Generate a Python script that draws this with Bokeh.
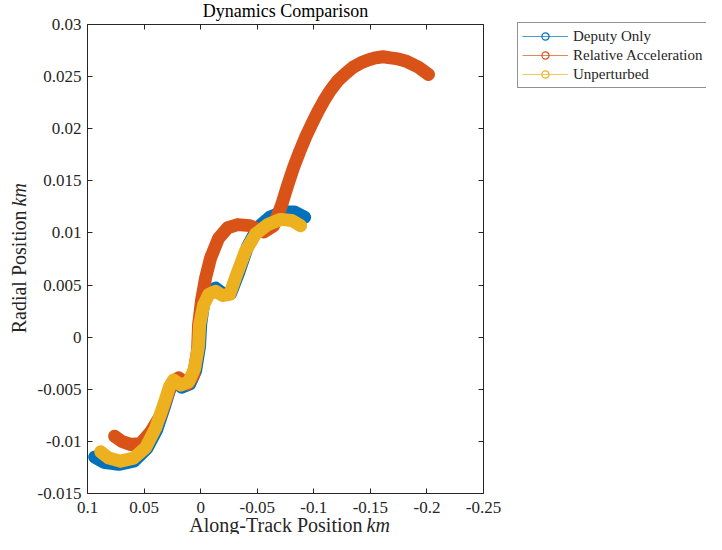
import math
from bokeh.plotting import figure
from bokeh.models import (Range1d, LinearAxis, FixedTicker, Legend, LegendItem,
                          Label, ColumnDataSource)
from bokeh.embed import file_html
from bokeh.resources import INLINE

# ---------------- data (km) ----------------
deputy_x = [0.0936, 0.0857, 0.0724, 0.0592, 0.0477, 0.0389, 0.0318, 0.0265, 0.0230,
            0.0168, 0.0097, 0.0044, 0.0009, 0.0, -0.0027, -0.0071, -0.0133, -0.0194,
            -0.0265, -0.0336, -0.0415, -0.0504, -0.0610, -0.0724, -0.0830, -0.0919]
deputy_y = [-0.0115, -0.0120, -0.0122, -0.0119, -0.0107, -0.0089, -0.0066, -0.0047,
            -0.0042, -0.0048, -0.0045, -0.0032, -0.0008, 0.0012, 0.0033, 0.0044, 0.0047,
            0.0042, 0.0042, 0.0062, 0.0087, 0.0105, 0.0115, 0.0120, 0.0120, 0.0115]

relacc_x = [0.0760, 0.0698, 0.0618, 0.0530, 0.0442, 0.0353, 0.0292, 0.0247, 0.0194,
            0.0115, 0.0062, 0.0027, 0.0018, -0.0009, -0.0044, -0.0088, -0.0159, -0.0239,
            -0.0327, -0.0433, -0.0557, -0.0645, -0.0716, -0.0770, -0.0822, -0.0875,
            -0.0928, -0.0980, -0.1034, -0.1090, -0.1148, -0.1212, -0.1281, -0.1347,
            -0.1413, -0.1480, -0.1546, -0.1612, -0.1678, -0.1745, -0.1811, -0.1870,
            -0.1926, -0.2014]
relacc_y = [-0.0095, -0.0100, -0.0103, -0.0102, -0.0091, -0.0075, -0.0055, -0.0043,
            -0.0039, -0.0045, -0.0036, -0.0012, 0.0012, 0.0036, 0.0057, 0.0076, 0.0095,
            0.0105, 0.0108, 0.0107, 0.0101, 0.0107, 0.0127, 0.0146, 0.0163, 0.0178,
            0.0192, 0.0204, 0.0216, 0.0227, 0.0237, 0.0246, 0.0253, 0.0259, 0.0263,
            0.0266, 0.0268, 0.0269, 0.0268, 0.0267, 0.0265, 0.0262, 0.0259, 0.0252]

unpert_x = [0.0883, 0.0812, 0.0707, 0.0592, 0.0486, 0.0397, 0.0327, 0.0274, 0.0239,
            0.0177, 0.0106, 0.0053, 0.0018, 0.0009, -0.0027, -0.0071, -0.0133, -0.0194,
            -0.0256, -0.0318, -0.0398, -0.0486, -0.0592, -0.0707, -0.0804, -0.0883]
unpert_y = [-0.0110, -0.0116, -0.0119, -0.0116, -0.0106, -0.0087, -0.0065, -0.0047,
            -0.0041, -0.0046, -0.0043, -0.0030, -0.0008, 0.0012, 0.0031, 0.0041, 0.0044,
            0.0040, 0.0041, 0.0060, 0.0083, 0.0099, 0.0108, 0.0113, 0.0112, 0.0107]

series_names = ["Deputy Only", "Relative Acceleration", "Unperturbed"]
series_colors = ["#0072BD", "#D95319", "#EDB120"]

x_lim = (0.1, -0.25)
y_lim = (-0.015, 0.03)
x_ticks = [0.1, 0.05, 0.0, -0.05, -0.1, -0.15, -0.2, -0.25]
x_tick_labels = ["0.1", "0.05", "0", "-0.05", "-0.1", "-0.15", "-0.2", "-0.25"]
y_ticks = [-0.015, -0.01, -0.005, 0.0, 0.005, 0.01, 0.015, 0.02, 0.025, 0.03]
y_tick_labels = ["-0.015", "-0.01", "-0.005", "0", "0.005", "0.01", "0.015",
                 "0.02", "0.025", "0.03"]

title_text = "Dynamics Comparison"
xlabel_text = "Along-Track Position"
ylabel_text = "Radial Position"
unit_text = "km"

# ---------------- layout (canvas pixels) ----------------
W, H = 706, 534
BOX_L, BOX_R, BOX_T, BOX_B = 87, 483, 24, 493
FONT = "Liberation Serif"
AX = "#262626"

kx = (x_lim[0] - x_lim[1]) / (BOX_R - BOX_L)
ky = (y_lim[1] - y_lim[0]) / (BOX_B - BOX_T)
x_range = Range1d(x_lim[0] + BOX_L * kx, x_lim[1] - (W - BOX_R) * kx)
y_range = Range1d(y_lim[0] - (H - BOX_B) * ky, y_lim[1] + BOX_T * ky)

p = figure(width=W, height=H, x_range=x_range, y_range=y_range,
           output_backend="svg", toolbar_location=None, min_border=0)
p.title.visible = False
p.xgrid.visible = False
p.ygrid.visible = False
p.outline_line_color = None
p.background_fill_color = "white"
p.border_fill_color = "white"


def base_axis(ax, loc, bounds):
    ax.fixed_location = loc
    ax.bounds = bounds
    ax.axis_line_color = AX
    ax.axis_line_width = 1
    ax.major_tick_line_color = AX
    ax.minor_tick_line_color = AX
    ax.major_tick_in = 5
    ax.major_tick_out = 0
    ax.minor_tick_in = 0
    ax.minor_tick_out = 0


def label_axis(ax, ticks, labels, loc, bounds, standoff):
    base_axis(ax, loc, bounds)
    ax.ticker = FixedTicker(ticks=ticks)
    ax.major_label_overrides = {t: l for t, l in zip(ticks, labels)}
    ax.major_label_text_font = FONT
    ax.major_label_text_color = AX
    ax.major_label_standoff = standoff
    ax.major_label_text_font_size = "17px"


def mirror_axis(ax, ticks, loc, bounds):
    # box side with inward ticks only (minor ticks carry no labels)
    base_axis(ax, loc, bounds)
    ax.ticker = FixedTicker(ticks=[], minor_ticks=ticks)
    ax.minor_tick_in = 5
    ax.minor_tick_out = 0


xb = (min(x_lim), max(x_lim))
yb = (min(y_lim), max(y_lim))
label_axis(p.xaxis[0], x_ticks, x_tick_labels, y_lim[0], xb, 8)
label_axis(p.yaxis[0], y_ticks, y_tick_labels, x_lim[0], yb, 6)
top_ax = LinearAxis()
mirror_axis(top_ax, x_ticks, y_lim[1], xb)
p.add_layout(top_ax, "above")
right_ax = LinearAxis()
mirror_axis(right_ax, y_ticks, x_lim[1], yb)
p.add_layout(right_ax, "right")

# ---------------- data curves (thick marker bands) ----------------
all_x = [deputy_x, relacc_x, unpert_x]
all_y = [deputy_y, relacc_y, unpert_y]
for xs, ys, c in zip(all_x, all_y, series_colors):
    p.line(x=xs, y=ys, line_color=c, line_width=13, line_cap="round",
           line_join="round")

# ---------------- legend ----------------
items = []
for name, c in zip(series_names, series_colors):
    src = ColumnDataSource(dict(x=[float("nan")], y=[float("nan")]))
    lr = p.line(x="x", y="y", source=src, line_color=c, line_width=1, line_alpha=0.7)
    sr = p.scatter(x="x", y="y", source=src, marker="circle", size=11,
                   fill_color=None, line_color=c, line_width=1.2)
    items.append(LegendItem(label=name, renderers=[lr, sr]))

LEG_H = 64
legend = Legend(items=items, location=(517, H - BOX_T - LEG_H), orientation="vertical",
                label_text_font=FONT, label_text_font_size="15px",
                label_text_color=AX, glyph_width=46, glyph_height=18,
                label_height=18, label_standoff=5, spacing=1, padding=4,
                margin=0, border_line_color=AX, border_line_width=1,
                background_fill_color="white", background_fill_alpha=1.0)
p.add_layout(legend, "center")

# ---------------- texts (screen px from canvas bottom-left) ----------------
p.add_layout(Label(x=(BOX_L + BOX_R) / 2, y=H - 10, x_units="screen", y_units="screen",
                   text=title_text, text_font=FONT, text_font_size="18px",
                   text_color="black", text_align="center", text_baseline="middle"))
p.add_layout(Label(x=362, y=H - 524, x_units="screen", y_units="screen",
                   text=xlabel_text, text_font=FONT, text_font_size="20px",
                   text_color=AX, text_align="right", text_baseline="middle"))
p.add_layout(Label(x=366, y=H - 524, x_units="screen", y_units="screen",
                   text=unit_text, text_font=FONT, text_font_size="20px",
                   text_font_style="italic", text_color=AX, text_align="left",
                   text_baseline="middle"))
p.add_layout(Label(x=18, y=H - 210, x_units="screen", y_units="screen",
                   text=ylabel_text, text_font=FONT, text_font_size="20px",
                   text_color=AX, text_align="right", text_baseline="middle",
                   angle=math.pi / 2))
p.add_layout(Label(x=18, y=H - 206, x_units="screen", y_units="screen",
                   text=unit_text, text_font=FONT, text_font_size="20px",
                   text_font_style="italic", text_color=AX, text_align="left",
                   text_baseline="middle", angle=math.pi / 2))

open("out.html", "w").write(file_html(p, INLINE))
